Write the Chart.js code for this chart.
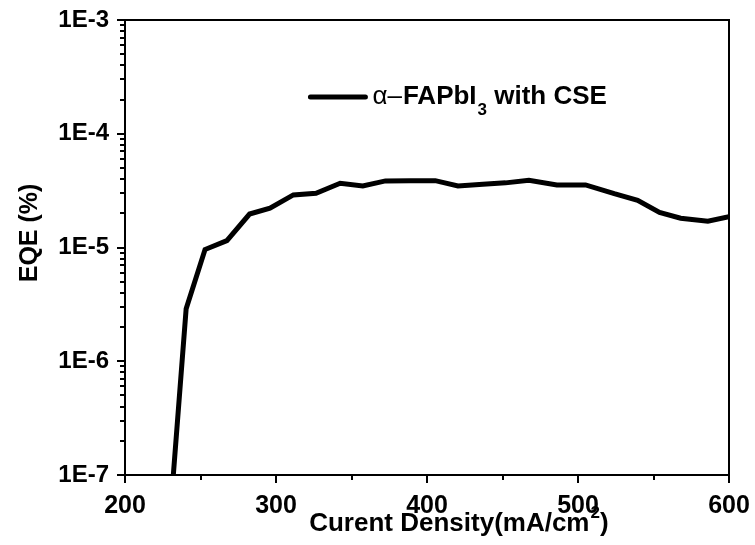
<!DOCTYPE html>
<html>
<head>
<meta charset="utf-8">
<script src="https://cdn.jsdelivr.net/npm/chart.js@4/dist/chart.umd.min.js"></script>
<style>
	html, body { margin: 0; padding: 0; background: #fff; }
	#wrap { width: 755px; height: 545px; }
</style>
</head>
<body>
<div id="wrap"><canvas id="eqeChart"></canvas></div>
<script>
// values
const currentDensity = [232, 240.5, 253, 267.5, 282.5, 296, 311.5, 326.5, 342.5, 357.5, 372.5, 389, 405.5, 420.5, 437, 452, 467.5, 486, 505, 524, 539.5, 554, 568, 586, 600];
const eqe = [1.0e-7, 2.9e-6, 9.6e-6, 1.15e-5, 1.97e-5, 2.22e-5, 2.9e-5, 3.0e-5, 3.67e-5, 3.47e-5, 3.85e-5, 3.87e-5, 3.87e-5, 3.47e-5, 3.6e-5, 3.7e-5, 3.9e-5, 3.55e-5, 3.55e-5, 2.97e-5, 2.6e-5, 2.03e-5, 1.81e-5, 1.7e-5, 1.87e-5];
const xTicks = [200, 300, 400, 500, 600];
const xMinorTicks = [250, 350, 450, 550];
const yTicks = [1e-7, 1e-6, 1e-5, 1e-4, 1e-3];
const seriesLabel = 'α–FAPbI3 with CSE';
const xTitle = 'Curent Density(mA/cm';
const yTitle = 'EQE (%)';

const FONT = "'Liberation Sans', Arial, sans-serif";

const frameAndTicks = {
	id: 'frameAndTicks',
	afterDraw(chart) {
		const ctx = chart.ctx;
		const a = chart.chartArea;
		const x = chart.scales.x;
		const y = chart.scales.y;
		ctx.save();
		ctx.strokeStyle = '#000';
		ctx.lineWidth = 2;
		ctx.strokeRect(a.left, a.top, a.right - a.left, a.bottom - a.top);

		ctx.beginPath();
		xTicks.forEach(v => {
			const px = Math.round(x.getPixelForValue(v));
			ctx.moveTo(px, a.bottom);
			ctx.lineTo(px, a.bottom + 8);
		});
		xMinorTicks.forEach(v => {
			const px = Math.round(x.getPixelForValue(v));
			ctx.moveTo(px, a.bottom);
			ctx.lineTo(px, a.bottom + 5);
		});
		yTicks.forEach((v, i) => {
			const py = Math.round(y.getPixelForValue(v));
			ctx.moveTo(a.left, py);
			ctx.lineTo(a.left - 8, py);
			if (i < yTicks.length - 1) {
				for (let k = 2; k <= 9; k++) {
					const pm = Math.round(y.getPixelForValue(v * k));
					ctx.moveTo(a.left, pm);
					ctx.lineTo(a.left - 5, pm);
				}
			}
		});
		ctx.stroke();

		ctx.fillStyle = '#000';

		// x title, with raised 2
		ctx.textBaseline = 'alphabetic';
		ctx.font = 'bold 26px ' + FONT;
		const w1 = ctx.measureText(xTitle).width;
		const w2 = ctx.measureText(')').width;
		ctx.font = 'bold 17px ' + FONT;
		const wSup = ctx.measureText('2').width;
		let tx = a.left + (a.right - a.left) * 0.552 - (w1 + wSup + w2) / 2;
		const by = a.bottom + 56;
		ctx.font = 'bold 26px ' + FONT;
		ctx.fillText(xTitle, tx, by);
		tx += w1;
		ctx.font = 'bold 17px ' + FONT;
		ctx.fillText('2', tx + 1, by - 13);
		tx += wSup + 1;
		ctx.font = 'bold 26px ' + FONT;
		ctx.fillText(')', tx, by);

		// y title
		ctx.save();
		ctx.translate(30, a.top + (a.bottom - a.top) * 0.468);
		ctx.rotate(-Math.PI / 2);
		ctx.textAlign = 'center';
		ctx.textBaseline = 'middle';
		ctx.font = 'bold 25px ' + FONT;
		ctx.fillText(yTitle, 0, 0);
		ctx.restore();

		// legend
		const lx = a.left + (a.right - a.left) * 0.307;
		const ly = a.top + 77;
		ctx.lineWidth = 5;
		ctx.lineCap = 'round';
		ctx.beginPath();
		ctx.moveTo(lx, ly);
		ctx.lineTo(lx + 55, ly);
		ctx.stroke();

		ctx.textBaseline = 'middle';
		tx = lx + 62;
		ctx.font = '26px ' + FONT;
		ctx.fillText('α–', tx, ly);
		tx += ctx.measureText('α–').width + 1;
		ctx.font = 'bold 26px ' + FONT;
		ctx.fillText('FAPbI', tx, ly);
		tx += ctx.measureText('FAPbI').width + 1;
		ctx.font = 'bold 17px ' + FONT;
		ctx.fillText('3', tx, ly + 13);
		tx += ctx.measureText('3').width;
		ctx.font = 'bold 26px ' + FONT;
		ctx.fillText(' with CSE', tx, ly);
		ctx.restore();
	}
};

new Chart(document.getElementById('eqeChart').getContext('2d'), {
	type: 'line',
	data: {
		datasets: [
			{
				label: seriesLabel,
				data: currentDensity.map((c, i) => ({ x: c, y: eqe[i] })),
				borderColor: '#000',
				borderWidth: 5,
				pointRadius: 0,
				tension: 0,
				fill: false,
			},
		],
	},
	options: {
		responsive: true,
		maintainAspectRatio: false,
		animation: false,
		layout: { padding: { top: 20, right: 26, left: 0, bottom: 0 } },
		plugins: {
			legend: { display: false },
			tooltip: { enabled: false },
		},
		scales: {
			x: {
				type: 'linear',
				min: 200,
				max: 600,
				afterBuildTicks: scale => { scale.ticks = xTicks.map(v => ({ value: v })); },
				afterFit: scale => {
					scale.height = 70;
					scale.paddingLeft = 0;
					scale.paddingRight = 0;
				},
				grid: { display: false, drawTicks: false },
				border: { display: false },
				ticks: {
					padding: 16,
					color: '#000',
					maxRotation: 0,
					font: { family: FONT, size: 25, weight: 'bold' },
				},
			},
			y: {
				type: 'logarithmic',
				min: 1e-7,
				max: 1e-3,
				afterBuildTicks: scale => { scale.ticks = yTicks.map(v => ({ value: v })); },
				afterFit: scale => {
					scale.width = 125;
					scale.paddingTop = 0;
					scale.paddingBottom = 0;
				},
				grid: { display: false, drawTicks: false },
				border: { display: false },
				ticks: {
					padding: 16,
					color: '#000',
					autoSkip: false,
					font: { family: FONT, size: 24, weight: 'bold' },
					callback: v => '1E' + Math.round(Math.log10(v)),
				},
			},
		},
	},
	plugins: [frameAndTicks],
});
</script>
</body>
</html>
